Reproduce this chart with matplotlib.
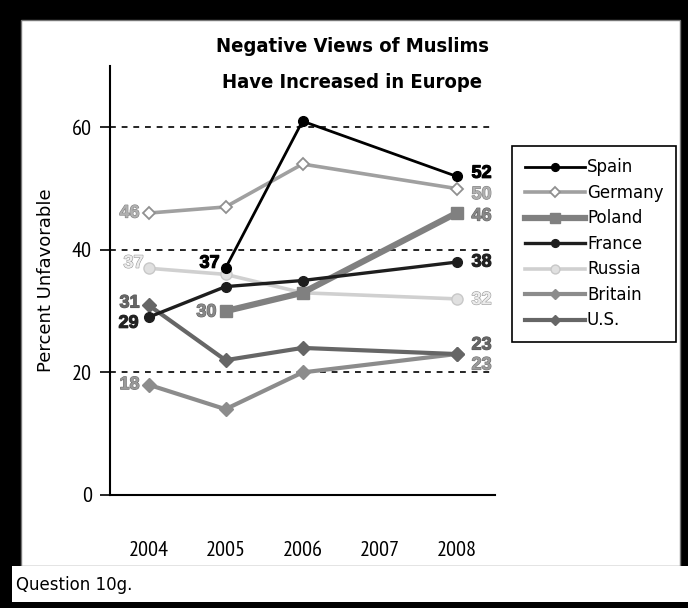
import matplotlib
matplotlib.use("Agg")
import matplotlib.pyplot as plt
import matplotlib.patheffects as pe
from matplotlib.patches import Rectangle

years = [2004, 2005, 2006, 2007, 2008]
series_names = ["Spain", "Germany", "Poland", "France", "Russia", "Britain", "U.S."]
spain = [None, 37, 61, None, 52]
germany = [46, 47, 54, None, 50]
poland = [None, 30, 33, None, 46]
france = [29, 34, 35, None, 38]
russia = [37, 36, 33, None, 32]
britain = [18, 14, 20, None, 23]
us = [31, 22, 24, None, 23]
yticks = [0, 20, 40, 60]
title_lines = ["Negative Views of Muslims", "Have Increased in Europe"]
ylabel = "Percent Unfavorable"
note = "Question 10g."

W, H = 688, 608
fig = plt.figure(figsize=(W / 100, H / 100), dpi=100, facecolor="black")

def fx(x):
    return x / W

def fy(y):
    return 1 - y / H

# white panels
fig.patches.append(Rectangle((fx(21), fy(566)), fx(680) - fx(21), fy(20) - fy(566),
                             transform=fig.transFigure, facecolor="white", edgecolor="#777777",
                             lw=1, zorder=-5))
fig.patches.append(Rectangle((fx(12), fy(602)), fx(688) - fx(12), fy(566) - fy(602),
                             transform=fig.transFigure, facecolor="white", edgecolor="none",
                             zorder=-5))

ax = fig.add_axes([fx(110), fy(495), fx(495) - fx(110), fy(66) - fy(495)])
ax.set_zorder(2)
ax.set_facecolor("none")
ax.set_xlim(2003.5, 2008.5)
ax.set_ylim(0, 70)

narrow = ["PT Sans Narrow", "DejaVu Sans"]
wide = ["DejaVu Sans"]

for g in [20, 40, 60]:
    ax.axhline(g, color="black", lw=1.2, ls=(0, (3.5, 3.5)), zorder=1)

for s in ["top", "right"]:
    ax.spines[s].set_visible(False)
ax.spines["left"].set_linewidth(1.5)
ax.spines["bottom"].set_linewidth(1.5)
ax.set_yticks(yticks)
ax.set_yticklabels([str(v) for v in yticks], family=narrow, fontsize=16)
ax.tick_params(axis="y", length=7, width=1.2, pad=6, direction="out")
ax.set_xticks(years)
ax.set_xticklabels([str(v) for v in years], family=narrow, fontsize=16)
ax.tick_params(axis="x", length=0, pad=33)
ax.set_ylabel(ylabel, family=wide, fontsize=13, labelpad=12)

styles = {
    "Spain":   dict(color="#000000", lw=2.0, marker="o", ms=7, mfc="#000000", mec="#000000"),
    "Germany": dict(color="#a0a0a0", lw=2.6, marker="D", ms=6.5, mfc="white", mec="#909090", mew=1.3),
    "Poland":  dict(color="#808080", lw=4.5, marker="s", ms=9, mfc="#808080", mec="#808080"),
    "France":  dict(color="#1e1e1e", lw=2.4, marker="o", ms=7, mfc="#1e1e1e", mec="#1e1e1e"),
    "Russia":  dict(color="#d0d0d0", lw=2.6, marker="o", ms=8, mfc="#e0e0e0", mec="#c8c8c8"),
    "Britain": dict(color="#8c8c8c", lw=3.0, marker="D", ms=7, mfc="#8c8c8c", mec="#8c8c8c"),
    "U.S.":    dict(color="#666666", lw=3.0, marker="D", ms=7, mfc="#666666", mec="#666666"),
}
data = {"Spain": spain, "Germany": germany, "Poland": poland, "France": france,
        "Russia": russia, "Britain": britain, "U.S.": us}
zorders = {"Spain": 9, "Germany": 5, "Poland": 6, "France": 8, "Russia": 4, "Britain": 3, "U.S.": 7}

handles = []
for name in series_names:
    vals = data[name]
    xs = [y for y, v in zip(years, vals) if v is not None]
    ys = [v for v in vals if v is not None]
    h, = ax.plot(xs, ys, label=name, zorder=zorders[name], clip_on=False, **styles[name])
    handles.append(h)

label_colors = {"Spain": ("#000000", "#000000"), "Germany": ("#b0b0b0", "#808080"),
                "Poland": ("#888888", "#606060"), "France": ("#222222", "#222222"),
                "Russia": ("#ececec", "#999999"), "Britain": ("#9a9a9a", "#707070"),
                "U.S.": ("#666666", "#555555")}

# (series, index, dx_px, dy_px(up), ha)
labels = [
    ("Spain", 1, -6, 5, "right"), ("Spain", 4, 15, 3, "left"),
    ("Germany", 0, -9, 0, "right"), ("Germany", 4, 15, -6, "left"),
    ("Poland", 1, -9, -1, "right"), ("Poland", 4, 15, -3, "left"),
    ("France", 0, -10, -6, "right"), ("France", 4, 15, 0, "left"),
    ("Russia", 0, -5, 5, "right"), ("Russia", 4, 15, -1, "left"),
    ("Britain", 0, -9, 0, "right"), ("Britain", 4, 15, -11, "left"),
    ("U.S.", 0, -9, 2, "right"), ("U.S.", 4, 15, 9, "left"),
]
for name, i, dx, dy, ha in labels:
    v = data[name][i]
    fc, ec = label_colors[name]
    t = ax.annotate(str(v), (years[i], v), xytext=(dx * 0.72, dy * 0.72), textcoords="offset points",
                    ha=ha, va="center", fontsize=13, fontweight="bold",
                    family=["Liberation Sans", "DejaVu Sans"], color=fc, zorder=12,
                    annotation_clip=False)
    t.set_path_effects([pe.withStroke(linewidth=0.8, foreground=ec)])

for line, ypix in zip(title_lines, [47, 82]):
    fig.text(fx(352), fy(ypix), line, ha="center", va="center",
             fontsize=14.5, fontweight="bold", family=wide, fontstretch="condensed")

leg = fig.legend(handles=handles, labels=series_names, loc="upper left",
                 bbox_to_anchor=(fx(512), fy(146)), bbox_transform=fig.transFigure,
                 frameon=True, fancybox=False, edgecolor="black", framealpha=1,
                 prop={"family": wide, "size": 12}, handlelength=3.6, handletextpad=0.15,
                 labelspacing=0.45, borderpad=0.75, borderaxespad=0, markerscale=0.8)
leg.get_frame().set_linewidth(1.2)

fig.text(fx(16), fy(585), note, ha="left", va="center", fontsize=12, family=wide)

fig.savefig("out.png", dpi=100, facecolor="black")
